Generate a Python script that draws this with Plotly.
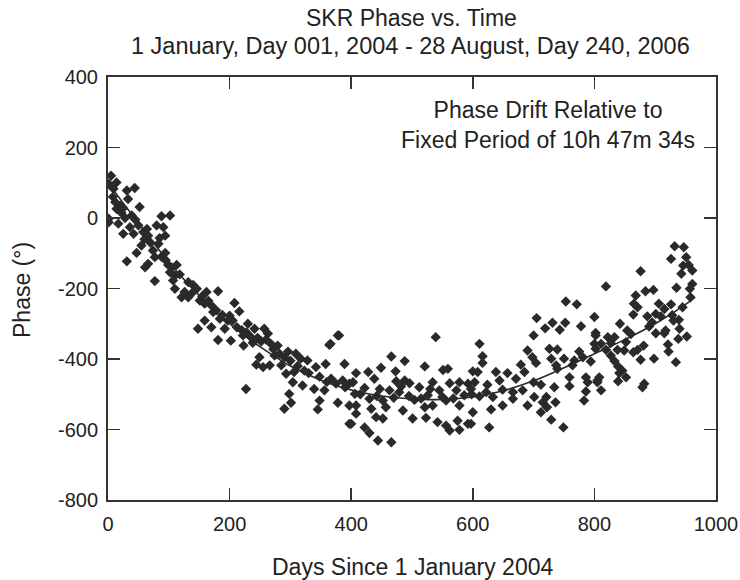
import plotly.graph_objects as go

# ---- data (days, phase in degrees) ----
days_a = [5,14,1,9,31,44,33,20,14,25,52,1,1,17,39,36,50,25,42,88,102,64,80,91,66,85,94,55,83,74,47,94,77,31,66,61,99,113,102,110,
          77,107,132,110,126,137,121,146,162,181,151,159,170,173,159,170,148,184,192,181,197,128,132,
          8,12,22,28,45,58,70,88,95,118,140,155,165,178,188,60,105]
phase_a = [120,101,97,83,78,85,54,35,26,28,31,-2,-12,-16,7,-26,-21,-45,-45,5,7,-31,-21,-26,-50,-57,-50,-78,-73,-92,-99,-99,-111,-123,-130,-140,-133,-133,-154,-163,
           -179,-177,-182,-201,-210,-215,-225,-201,-210,-208,-234,-243,-248,-267,-291,-310,-314,-286,-314,-346,-291,-218,-225,
           60,45,15,0,-5,-40,-70,-110,-120,-160,-190,-222,-235,-262,-275,-60,-140]

days_b = [208,216,200,205,230,241,257,222,235,202,263,223,238,268,279,378,364,296,249,274,309,317,328,244,255,266,285,342,358,389,
          293,306,323,367,386,397,304,320,339,356,227,298,348,301,378,290,345,397,397,
          212,220,228,246,252,260,272,282,290,300,312,330,348,360,375,390]
phase_b = [-241,-265,-277,-291,-300,-314,-314,-333,-338,-348,-328,-362,-354,-357,-362,-333,-360,-379,-395,-390,-385,-399,-404,-416,-423,-418,-418,-423,-414,-414,
           -442,-437,-433,-456,-461,-470,-466,-475,-485,-489,-485,-499,-518,-524,-524,-541,-543,-532,-584,
           -310,-318,-325,-340,-350,-345,-372,-385,-395,-405,-420,-440,-450,-465,-470,-480]

days_c = [539,466,488,521,449,551,559,408,428,473,438,474,488,496,403,534,562,578,592,422,447,463,512,545,573,406,479,526,586,430,
          452,504,556,408,433,457,485,521,534,578,408,441,452,501,523,542,575,400,556,422,562,578,592,430,444,466,
          380,366,415,442,470,495,515,550,568,598,482,530]
phase_c = [-338,-393,-406,-421,-425,-431,-428,-440,-437,-435,-456,-463,-461,-469,-466,-466,-469,-466,-470,-482,-485,-489,-480,-489,-489,-499,-494,-503,-503,-513,
           -518,-516,-518,-532,-541,-537,-546,-537,-532,-532,-555,-565,-569,-569,-567,-579,-575,-584,-589,-594,-603,-601,-584,-610,-631,-636,
           -333,-357,-500,-505,-510,-505,-512,-508,-512,-500,-478,-485]

days_d = [753,771,705,800,731,752,719,743,778,802,700,611,800,690,726,739,775,616,698,729,750,767,781,616,704,679,737,764,794,600,
          608,638,657,685,739,759,786,805,603,624,644,671,700,712,789,734,759,597,622,649,666,682,786,611,633,666,701,721,783,649,
          690,715,736,722,630,600,712,729,597,627,749]
phase_d = [-237,-245,-284,-281,-297,-297,-313,-317,-307,-326,-333,-357,-357,-376,-371,-373,-379,-392,-395,-399,-399,-404,-395,-411,-411,-416,-418,-418,-407,-435,
           -437,-437,-440,-437,-428,-452,-452,-461,-466,-473,-461,-456,-466,-473,-466,-480,-477,-485,-494,-487,-494,-489,-492,-506,-508,-513,-508,-508,-518,-532,
           -532,-523,-523,-537,-543,-551,-551,-572,-584,-594,-594]

days_e = [932,947,951,926,946,955,961,943,876,961,819,884,897,935,957,958,868,865,871,906,926,945,915,864,887,901,909,928,939,842,
          895,930,890,854,917,940,860,901,915,802,822,833,938,952,811,827,852,881,921,802,819,838,849,864,871,922,827,876,898,833,
          839,934,846,841,808,852,839,805,882,879,811]
phase_e = [-80,-83,-111,-116,-135,-133,-149,-158,-151,-187,-194,-208,-204,-198,-201,-225,-220,-243,-253,-243,-245,-253,-258,-274,-279,-272,-279,-276,-289,-300,
           -296,-291,-308,-319,-319,-314,-329,-327,-327,-333,-338,-338,-343,-336,-357,-355,-352,-362,-359,-371,-374,-374,-376,-381,-374,-379,-390,-402,-399,-406,
           -421,-409,-433,-440,-452,-452,-463,-466,-470,-480,-489]

days = days_a + days_b + days_c + days_d + days_e
phase = phase_a + phase_b + phase_c + phase_d + phase_e

fit_days = [0, 50, 100, 150, 200, 250, 300, 350, 400, 450, 500, 550, 600, 650, 700, 750, 800, 850, 900, 950, 965]
fit_phase = [100, -15, -125, -220, -300, -365, -420, -460, -488, -505, -513, -515, -508, -490, -462, -425, -385, -345, -300, -245, -225]

x_ticks = [0, 200, 400, 600, 800, 1000]
y_ticks = [400, 200, 0, -200, -400, -600, -800]

title_1 = "SKR Phase vs. Time"
title_2 = "1 January, Day 001, 2004 - 28 August, Day 240, 2006"
x_title = "Days Since 1 January 2004"
y_title = "Phase (°)"
note = "Phase Drift Relative to<br>Fixed Period of 10h 47m 34s"

FONT = "Arial, Liberation Sans, sans-serif"
INK = "#2a2a2a"
TXT = "#222"

W, H = 740, 580
L, R, T, B = 108, 24, 77, 80
PW, PH = W - L - R, H - T - B

def px_x(p):
    return (p - L) / PW

def px_y(p):
    return (H - B - p) / PH

fig = go.Figure()
fig.add_trace(go.Scatter(x=days, y=phase, mode="markers",
                         marker=dict(symbol="diamond", size=8, color=INK, line=dict(width=0)),
                         hoverinfo="skip", showlegend=False))
fig.add_trace(go.Scatter(x=fit_days, y=fit_phase, mode="lines", line=dict(color=INK, width=1.6, shape="spline"),
                         hoverinfo="skip", showlegend=False))

axis_common = dict(showline=True, linewidth=2, linecolor="#333", mirror="ticks", ticks="inside",
                   ticklen=12, tickwidth=1.5, tickcolor="#333", showgrid=False, zeroline=False,
                   automargin=False, tickfont=dict(family=FONT, size=20, color=TXT))

fig.update_xaxes(range=[0, 1000], tickvals=x_ticks, ticktext=[str(v) for v in x_ticks],
                 ticklabelstandoff=5, **axis_common)
fig.update_yaxes(range=[-800, 400], tickvals=y_ticks, ticktext=[str(v) for v in y_ticks],
                 ticklabelstandoff=4, **axis_common)

ann = [
    dict(text=title_1, x=px_x(411), y=px_y(18), xanchor="center", yanchor="middle",
         font=dict(family=FONT, size=23, color=TXT)),
    dict(text=title_2, x=px_x(410), y=px_y(46), xanchor="center", yanchor="middle",
         font=dict(family=FONT, size=23.5, color=TXT)),
    dict(text=x_title, x=px_x(412), y=px_y(567), xanchor="center", yanchor="middle",
         font=dict(family=FONT, size=23, color=TXT)),
    dict(text=y_title, x=px_x(22), y=px_y(290), xanchor="center", yanchor="middle", textangle=-90,
         font=dict(family=FONT, size=23, color=TXT)),
    dict(text=note, x=px_x(697), y=px_y(125), xanchor="right", yanchor="middle", align="center",
         font=dict(family=FONT, size=23, color=TXT)),
]
for a in ann:
    a.update(xref="paper", yref="paper", showarrow=False)

fig.update_layout(
    width=W, height=H, plot_bgcolor="white", paper_bgcolor="white",
    margin=dict(l=L, r=R, t=T, b=B, autoexpand=False),
    annotations=ann,
)

fig.write_html("out.html", config={"displayModeBar": False, "staticPlot": True},
               post_script="document.body.style.margin='0';document.body.style.overflow='hidden';")
